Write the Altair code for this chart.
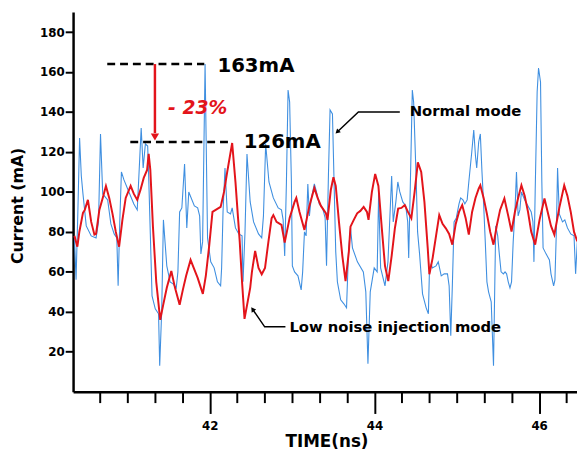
import altair as alt
import pandas as pd

# ---------------- data ----------------
blue_t = [40.356, 40.376, 40.398, 40.419, 40.440, 40.460, 40.500, 40.560, 40.619, 40.649,
          40.673, 40.700, 40.760, 40.799, 40.839, 40.871, 40.887, 40.907, 40.927, 40.958,
          41.018, 41.078, 41.119, 41.138, 41.167, 41.191, 41.218, 41.246, 41.260, 41.278,
          41.299, 41.338, 41.378, 41.392, 41.416, 41.437, 41.478, 41.518, 41.554, 41.593,
          41.613, 41.634, 41.661, 41.694, 41.721, 41.745, 41.813, 41.853, 41.877, 41.892,
          41.913, 41.943, 41.973, 42.012, 42.053, 42.093, 42.132, 42.144, 42.161, 42.185,
          42.212, 42.252, 42.272, 42.312, 42.352, 42.392, 42.404, 42.428, 42.452, 42.491,
          42.532, 42.592, 42.631, 42.652, 42.679, 42.719, 42.772, 42.831, 42.871, 42.891,
          42.910, 42.931, 42.951, 42.970, 42.991, 43.003, 43.030, 43.071, 43.110, 43.128,
          43.150, 43.170, 43.191, 43.210, 43.230, 43.270, 43.290, 43.330, 43.370, 43.401,
          43.418, 43.442, 43.461, 43.490, 43.509, 43.530, 43.550, 43.590, 43.629, 43.661,
          43.685, 43.709, 43.733, 43.793, 43.865, 43.895, 43.921, 43.949, 43.997, 44.033,
          44.051, 44.075, 44.128, 44.164, 44.188, 44.209, 44.228, 44.260, 44.284, 44.308,
          44.344, 44.380, 44.404, 44.416, 44.434, 44.460, 44.476, 44.508, 44.524, 44.548,
          44.584, 44.628, 44.655, 44.667, 44.688, 44.703, 44.748, 44.775, 44.811, 44.847,
          44.887, 44.907, 44.927, 44.946, 44.967, 44.994, 45.027, 45.047, 45.075, 45.098,
          45.126, 45.146, 45.182, 45.206, 45.227, 45.242, 45.266, 45.286, 45.306, 45.326,
          45.346, 45.366, 45.386, 45.418, 45.446, 45.464, 45.473, 45.497, 45.514, 45.538,
          45.566, 45.586, 45.605, 45.625, 45.646, 45.665, 45.685, 45.706, 45.725, 45.745,
          45.766, 45.785, 45.825, 45.865, 45.904, 45.925, 45.937, 45.952, 45.976, 45.993,
          46.017, 46.033, 46.048, 46.084, 46.125, 46.144, 46.176, 46.192, 46.209, 46.224,
          46.245, 46.284, 46.312, 46.344, 46.384, 46.424, 46.443, 46.464]
blue_ma = [78, 56, 90, 127, 108, 99, 83, 78, 77, 85,
           129, 99, 96, 84, 79, 77, 53, 85, 110, 106,
           100, 94, 91, 107, 132, 112, 124, 123, 105, 79,
           48, 41.5, 39, 13, 40, 86, 63, 55, 54, 52,
           60, 90, 92, 114, 82, 100, 93, 92, 88, 69,
           75, 164, 77, 65, 62, 55, 53, 62, 90, 112,
           90, 89, 92, 82, 79, 78, 55, 80, 119, 95,
           85, 79, 77, 88, 124, 105, 97, 92, 91, 86,
           68, 105, 151, 145, 106, 63, 60, 58, 51, 60,
           80, 78, 104, 88, 96, 104, 101, 94, 92, 87,
           63, 110, 141, 139, 106, 70, 55, 46, 44, 42,
           70, 82, 72, 65, 60, 50, 14, 50, 62, 60,
           100, 62, 53, 65, 88, 108, 85, 95, 105, 100,
           95, 93, 85, 67, 100, 151, 145, 105, 80, 69,
           49, 42, 39, 59, 64, 62, 63, 65, 58, 59,
           59, 53, 28, 53, 85, 87, 94, 97, 96, 94,
           96, 105, 120, 131, 118, 112, 125, 129, 110, 94,
           75, 55, 50, 45, 13, 60, 83, 78, 70, 60,
           59, 60, 59, 55, 52, 55, 75, 90, 110, 88,
           91, 100, 96, 93, 90, 85, 65, 100, 150, 162,
           155, 105, 72, 69, 66, 59, 53, 56, 80, 112,
           89, 85, 86, 82, 79, 78, 59, 75]

red_t = [40.356, 40.392, 40.416, 40.460, 40.482, 40.520, 40.542, 40.560, 40.599, 40.619,
         40.659, 40.700, 40.739, 40.779, 40.819, 40.859, 40.899, 40.939, 40.979, 41.039,
         41.078, 41.119, 41.158, 41.198, 41.239, 41.258, 41.278, 41.310, 41.350, 41.398,
         41.437, 41.478, 41.533, 41.578, 41.634, 41.673, 41.713, 41.767, 41.805, 41.853,
         41.916, 41.952, 41.993, 42.033, 42.072, 42.132, 42.173, 42.212, 42.272, 42.312,
         42.364, 42.392, 42.422, 42.460, 42.491, 42.512, 42.551, 42.592, 42.631, 42.671,
         42.712, 42.751, 42.772, 42.811, 42.871, 42.910, 42.970, 43.030, 43.051, 43.090,
         43.150, 43.210, 43.270, 43.310, 43.350, 43.410, 43.430, 43.470, 43.502, 43.530,
         43.569, 43.610, 43.649, 43.689, 43.709, 43.749, 43.790, 43.829, 43.869, 43.909,
         43.928, 43.969, 44.009, 44.048, 44.089, 44.128, 44.168, 44.209, 44.248, 44.288,
         44.328, 44.368, 44.407, 44.448, 44.488, 44.527, 44.568, 44.607, 44.647, 44.667,
         44.707, 44.748, 44.787, 44.827, 44.867, 44.907, 44.946, 44.987, 45.027, 45.066,
         45.107, 45.146, 45.186, 45.227, 45.266, 45.286, 45.326, 45.366, 45.406, 45.446,
         45.485, 45.526, 45.578, 45.625, 45.665, 45.706, 45.745, 45.785, 45.825, 45.865,
         45.904, 45.952, 46.005, 46.065, 46.104, 46.144, 46.185, 46.245, 46.305, 46.344,
         46.384, 46.424, 46.464]
red_ma = [78, 72.6, 80, 89.5, 91, 96, 90, 85, 78.6, 79,
          91, 97, 103, 97, 89, 80, 72.6, 86, 97, 103,
          99, 96, 101, 107, 111, 119, 111, 82.5, 55, 36,
          44, 52, 60.4, 52, 43.5, 51, 58, 66, 62, 57,
          49, 58, 73, 90, 91, 92.5, 100, 110, 124.5, 105,
          75, 55, 36.5, 45, 52, 60, 70.5, 62, 58.8, 62,
          75, 86.8, 88.4, 85, 83.5, 74.6, 87, 95, 97, 90,
          81, 93, 102, 97, 93, 89.4, 86, 101, 107.4, 103,
          85, 68, 55.4, 70, 82.6, 86, 89.3, 90.5, 92.5, 90,
          86, 100, 109, 103, 82, 63, 55.4, 68, 81.8, 91.7,
          92, 93.4, 90, 86.8, 100, 114.8, 110, 95, 72, 58.8,
          67, 78, 88.4, 84, 81.8, 79, 73.6, 84, 90, 93.4,
          87, 78.6, 90, 97, 101.6, 103.3, 97, 89, 80, 73.6,
          83, 91, 96.7, 88, 80.2, 90, 97, 103.3, 98, 90,
          80, 73.6, 86, 96.7, 90, 83, 78.6, 92, 103.3, 98,
          90, 80, 75.2]

x_major_ticks = [42, 44, 46]
x_minor_ticks = [40.6667, 41.0, 41.3333, 41.6667, 42.3333, 42.6667, 43.0, 43.3333,
                 43.6667, 44.3333, 44.6667, 45.0, 45.3333, 45.6667, 46.3333]
y_ticks = [20, 40, 60, 80, 100, 120, 140, 160, 180]

# annotation anchors (data units)
level_start = [40.755, 41.035]
level_end = [41.933, 42.272]
level_value = [164, 125]
drop_time = [41.334]
drop_from = [164]
drop_to = [129.5]
drop_head = [127.5]
normal_path_t = [44.308, 43.805, 43.548]
normal_path_v = [140, 140, 130]
low_path_t = [42.919, 42.667, 42.520]
low_path_v = [32.5, 32.5, 41.3]

FONT = "DejaVu Sans"
BLUE = "#3f8fe0"
RED = "#e3141b"

xs = alt.Scale(domain=[40.34, 46.46], nice=False, zero=False)
ys = alt.Scale(domain=[0, 190], nice=False, zero=False)

x_major_axis = alt.Axis(values=x_major_ticks, orient="bottom", format="d", grid=False,
                        tickSize=22, tickWidth=2, tickColor="black",
                        domainColor="black", domainWidth=2.5,
                        labelFont=FONT, labelFontSize=12, labelFontWeight="bold",
                        labelColor="black", labelPadding=7,
                        title="TIME(ns)", titleFont=FONT, titleFontSize=17,
                        titleFontWeight="bold", titleColor="black",
                        titleX=257, titleY=51, titleBaseline="middle", titleAlign="center")
x_minor_axis = alt.Axis(values=x_minor_ticks, orient="bottom", grid=False, labels=False,
                        tickSize=11, tickWidth=2, tickColor="black", domain=False, title="")
y_axis = alt.Axis(values=y_ticks, orient="left", grid=False,
                  tickSize=8, tickWidth=2, tickColor="black",
                  domainColor="black", domainWidth=2.5,
                  labelFont=FONT, labelFontSize=12, labelFontWeight="bold",
                  labelColor="black", labelPadding=1,
                  title="Current (mA)", titleFont=FONT, titleFontSize=16,
                  titleFontWeight="bold", titleColor="black",
                  titleX=-56, titleY=196, titleBaseline="middle", titleAngle=270,
                  titleAlign="center")

blue_df = pd.DataFrame({"t": blue_t, "v": blue_ma})
red_df = pd.DataFrame({"t": red_t, "v": red_ma})

blue = alt.Chart(blue_df).mark_line(color=BLUE, strokeWidth=1.1, clip=True).encode(
    x=alt.X("t:Q", scale=xs, axis=x_major_axis),
    y=alt.Y("v:Q", scale=ys, axis=y_axis),
)
red = alt.Chart(red_df).mark_line(color=RED, strokeWidth=2, clip=True).encode(
    x=alt.X("t:Q", scale=xs, axis=None),
    y=alt.Y("v:Q", scale=ys, axis=None),
)

levels_df = pd.DataFrame({"t": level_start, "t2": level_end, "v": level_value})
levels = alt.Chart(levels_df).mark_rule(color="black", strokeWidth=2.5, strokeDash=[8, 5]).encode(
    x=alt.X("t:Q", scale=xs, axis=x_minor_axis),
    x2="t2:Q",
    y=alt.Y("v:Q", scale=ys, axis=None),
)

drop_df = pd.DataFrame({"t": drop_time, "v": drop_from, "v2": drop_to, "h": drop_head})
drop = alt.Chart(drop_df).mark_rule(color=RED, strokeWidth=2.5).encode(
    x=alt.X("t:Q", scale=xs, axis=None),
    y=alt.Y("v:Q", scale=ys, axis=None),
    y2="v2:Q",
)
drop_tip = alt.Chart(drop_df).mark_point(shape="triangle-down", filled=True, color=RED,
                                         size=70, opacity=1).encode(
    x=alt.X("t:Q", scale=xs, axis=None),
    y=alt.Y("h:Q", scale=ys, axis=None),
)

normal_df = pd.DataFrame({"t": normal_path_t, "v": normal_path_v, "o": [0, 1, 2]})
normal_arrow = alt.Chart(normal_df).mark_line(color="black", strokeWidth=1.5).encode(
    x=alt.X("t:Q", scale=xs, axis=None),
    y=alt.Y("v:Q", scale=ys, axis=None),
    order="o:Q",
)
normal_tip = alt.Chart(normal_df.tail(1)).mark_point(shape="triangle-up", filled=True,
                                                     color="black", size=30, angle=227,
                                                     opacity=1).encode(
    x=alt.X("t:Q", scale=xs, axis=None),
    y=alt.Y("v:Q", scale=ys, axis=None),
)
low_df = pd.DataFrame({"t": low_path_t, "v": low_path_v, "o": [0, 1, 2]})
low_arrow = alt.Chart(low_df).mark_line(color="black", strokeWidth=1.5).encode(
    x=alt.X("t:Q", scale=xs, axis=None),
    y=alt.Y("v:Q", scale=ys, axis=None),
    order="o:Q",
)
low_tip = alt.Chart(low_df.tail(1)).mark_point(shape="triangle-up", filled=True,
                                               color="black", size=30, angle=325,
                                               opacity=1).encode(
    x=alt.X("t:Q", scale=xs, axis=None),
    y=alt.Y("v:Q", scale=ys, axis=None),
)


def label(text, t, v, size, color="black", style="normal"):
    df = pd.DataFrame({"t": [t], "v": [v], "txt": [text]})
    return alt.Chart(df).mark_text(align="left", baseline="middle", font=FONT,
                                   fontWeight="bold", fontStyle=style,
                                   fontSize=size, color=color).encode(
        x=alt.X("t:Q", scale=xs, axis=None),
        y=alt.Y("v:Q", scale=ys, axis=None),
        text="txt:N",
    )


texts = [
    label("163mA", 42.093, 163, 20),
    label("126mA", 42.412, 124.7, 20),
    label("- 23%", 41.494, 142, 19, RED, "italic"),
    label("Normal mode", 44.428, 140.4, 15),
    label("Low noise injection mode", 42.967, 32.5, 15),
]

chart = alt.layer(blue, red, levels, drop, drop_tip, normal_arrow, normal_tip,
                  low_arrow, low_tip, *texts).resolve_axis(
    x="independent", y="independent"
).properties(
    width=511, height=385,
    padding={"left": 66, "top": 1, "right": 0, "bottom": 61},
    autosize=alt.AutoSizeParams(type="none"),
    background="white",
).configure_view(strokeWidth=0)

chart.save("out.html", embed_options={"renderer": "svg", "actions": False})
